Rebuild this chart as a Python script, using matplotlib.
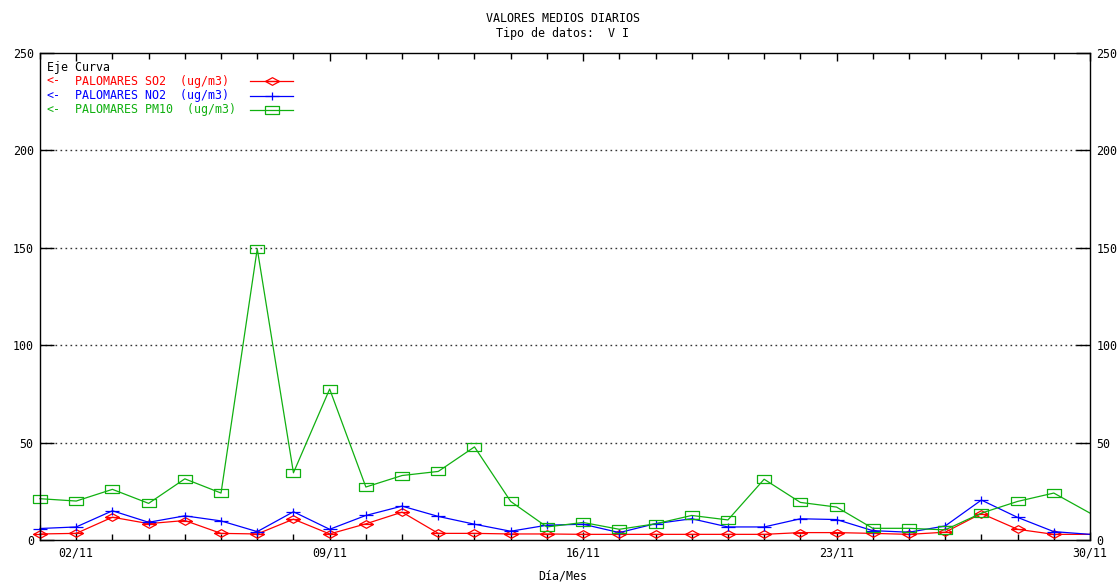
import numpy as np
import matplotlib
matplotlib.use('Agg')
import matplotlib.pyplot as plt
from matplotlib.path import Path

# Daily mean values, November (ug/m3)
days = list(range(1, 31))
so2 = [3.1, 3.4, 11.7, 8.4, 10.0, 3.4, 3.1, 10.7, 3.1, 8.3,
       14.3, 3.4, 3.4, 3.1, 3.1, 2.9, 2.9, 2.9, 2.9, 2.9,
       2.9, 3.8, 3.8, 3.4, 2.9, 4.0, 13.6, 5.5, 2.9, 2.9]
no2 = [5.9, 6.7, 15.0, 9.1, 12.4, 9.8, 4.3, 14.5, 5.5, 12.6,
       17.4, 12.1, 8.1, 4.5, 7.6, 8.1, 3.8, 8.4, 10.9, 6.7,
       6.7, 10.9, 10.5, 4.8, 4.0, 7.2, 20.5, 11.6, 4.3, 2.9]
pm10 = [21.2, 20.0, 26.0, 18.8, 31.4, 24.1, 149.5, 34.5, 77.5, 27.2,
        33.1, 35.2, 47.8, 19.8, 6.7, 9.0, 5.5, 8.3, 12.6, 10.3,
        31.2, 19.3, 16.9, 6.0, 6.0, 5.2, 13.8, 19.8, 24.1, 13.8]

week_days = [2, 9, 16, 23, 30]
week_labels = ['02/11', '09/11', '16/11', '23/11', '30/11']
y_ticks = [0, 50, 100, 150, 200, 250]

series_names = ['PALOMARES SO2  (ug/m3)', 'PALOMARES NO2  (ug/m3)', 'PALOMARES PM10  (ug/m3)']

RED = '#ff0000'
BLUE = '#0000ff'
GREEN = '#10b010'
FONT = 'DejaVu Sans Mono'
FS = 8.4

# gnuplot-ish point shapes
diamond = Path([(-1, 0), (0, 0.55), (1, 0), (0, -0.55), (-1, 0), (1, 0)],
               [Path.MOVETO] + [Path.LINETO] * 5)
plus = Path([(-1, 0), (1, 0), (0, -0.6), (0, 0.6)],
            [Path.MOVETO, Path.LINETO, Path.MOVETO, Path.LINETO])
rect = Path([(-1, -0.55), (1, -0.55), (1, 0.55), (-1, 0.55), (-1, -0.55)],
            [Path.MOVETO] + [Path.LINETO] * 4)

W, H = 1120, 583
fig = plt.figure(figsize=(W / 100, H / 100), dpi=100)
ax = fig.add_axes([40 / W, 1 - 540 / H, 1050 / W, 487 / H])


def fx(px):
    return px / W


def fy(py):
    return 1 - py / H


styles = [(so2, RED, diamond), (no2, BLUE, plus), (pm10, GREEN, rect)]
for vals, col, mk in styles:
    ax.plot(days, vals, color=col, lw=0.9, marker=mk, markersize=10,
            markerfacecolor='none', markeredgecolor=col, markeredgewidth=0.9,
            markevery=list(range(len(days) - 1)), clip_on=False)

ax.set_xlim(1, 30)
ax.set_ylim(0, 250)
ax.set_xticks(week_days)
ax.set_xticklabels(week_labels)
ax.set_xticks(days, minor=True)
ax.set_yticks(y_ticks)
ax.set_yticklabels([str(v) for v in y_ticks])

ax.tick_params(axis='y', which='both', direction='in', length=10, width=1,
               left=True, right=True, labelleft=True, labelright=True,
               pad=4.5, labelsize=FS)
ax.tick_params(axis='x', which='major', direction='in', length=6, width=1,
               top=True, bottom=True, pad=5, labelsize=FS)
ax.tick_params(axis='x', which='minor', direction='in', length=4, width=1,
               top=True, bottom=True)
for lab in ax.get_xticklabels() + ax.get_yticklabels():
    lab.set_family(FONT)
for lab in ax.yaxis.get_ticklabels(which='major'):
    lab.set_family(FONT)

for v in y_ticks[1:-1]:
    ax.axhline(v, color='#333333', lw=1, dashes=(1.2, 2.4), zorder=0)

for s in ax.spines.values():
    s.set_linewidth(1)

# titles
fig.text(0.5 + 3 / W, fy(19), 'VALORES MEDIOS DIARIOS', ha='center', va='center',
         family=FONT, fontsize=FS)
fig.text(0.5 + 3 / W, fy(33), 'Tipo de datos:  V I', ha='center', va='center',
         family=FONT, fontsize=FS)
fig.text(0.5 + 3 / W, fy(576), 'Día/Mes', ha='center', va='center',
         family=FONT, fontsize=FS)

# key
fig.text(fx(47), fy(68), 'Eje Curva', ha='left', va='center', family=FONT, fontsize=FS)
key_y = [81, 96, 110]
for (vals, col, mk), name, yy in zip(styles, series_names, key_y):
    fig.text(fx(47), fy(yy), '<-', ha='left', va='center', family=FONT,
             fontsize=FS, color=col)
    fig.text(fx(75), fy(yy), name, ha='left', va='center', family=FONT,
             fontsize=FS, color=col)
    ax.plot([fx(250), fx(293)], [fy(yy), fy(yy)], transform=fig.transFigure,
            color=col, lw=0.9, clip_on=False)
    ax.plot([fx(272)], [fy(yy)], transform=fig.transFigure, marker=mk,
            markersize=10, markerfacecolor='none', markeredgecolor=col,
            markeredgewidth=0.9, clip_on=False)

fig.savefig('out.png', dpi=100)
